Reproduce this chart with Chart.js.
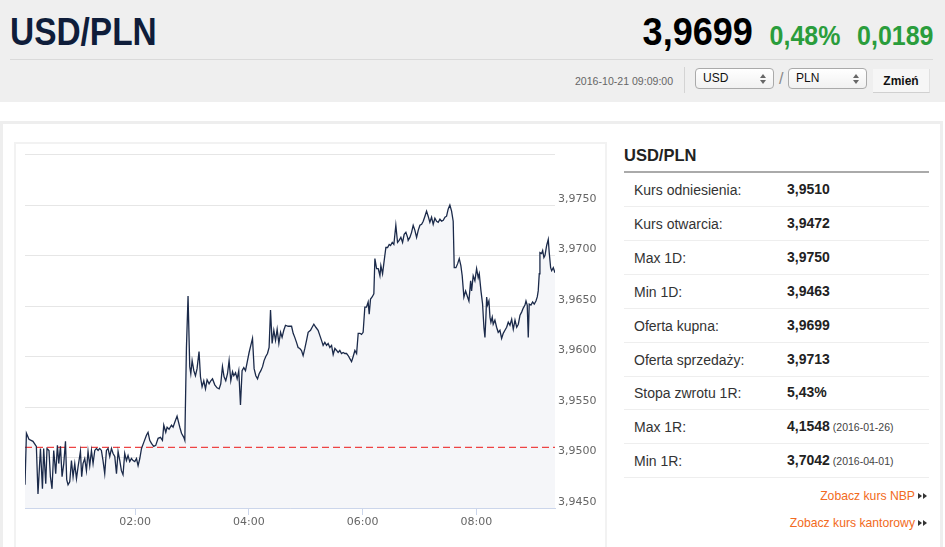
<!DOCTYPE html>
<html><head><meta charset="utf-8">
<script src="https://cdn.jsdelivr.net/npm/chart.js@4.4.1/dist/chart.umd.min.js"></script>
<style>
html,body{margin:0;padding:0;background:#fff;width:945px;height:547px;overflow:hidden;font-family:"Liberation Sans",Arial,sans-serif;}
.abs{position:absolute;}
#hdr{left:0;top:0;width:945px;height:102px;background:#efefef;}
#title{left:10px;top:12px;font-weight:bold;font-size:39px;line-height:40px;color:#0f1d3a;white-space:nowrap;transform:scaleX(0.857);transform-origin:left center;}
#quote{right:12px;top:12px;white-space:nowrap;font-weight:bold;line-height:40px;transform:scaleX(0.925);transform-origin:right center;}
#price{font-size:39px;color:#000;}
.chg{font-size:27px;color:#2a9d3c;margin-left:18px;}
#hline{left:10px;top:59px;width:923px;height:1px;background:#dadada;}
#date{left:575px;top:75px;font-size:11px;color:#666;white-space:nowrap;transform:scaleX(0.96);transform-origin:left center;}
#vsep{left:684px;top:67px;width:1px;height:26px;background:#d4d4d4;}
.sel{height:19px;border:1px solid #aaa;border-radius:4px;background:linear-gradient(#fff,#f1f1f1);font-size:12px;line-height:19px;color:#111;box-sizing:content-box;}
.sel span{position:absolute;left:7px;top:0;}
.arr{position:absolute;right:7px;width:0;height:0;border-left:3px solid transparent;border-right:3px solid transparent;}
#slash{left:779px;top:70px;font-size:16px;color:#888;}
#btn{left:873px;top:69px;width:56px;height:23px;background:#f6f6f6;border-bottom:1px solid #d0d0d0;border-right:1px solid #e0e0e0;font-weight:bold;font-size:12px;line-height:24px;text-align:center;color:#111;}
#panel{left:0;top:121px;width:937px;height:440px;border:3px solid #eeeeee;}
#box{left:14px;top:142px;width:589px;height:420px;border:2px solid #f2f2f2;}
#chartwrap{left:17px;top:145px;width:588px;height:398px;}
#ptitle{left:624px;top:146px;font-weight:bold;font-size:16.5px;color:#222;}
#pline{left:624px;top:171px;width:305px;height:2px;background:#aaa;}
.row{left:624px;width:305px;height:33px;border-bottom:1px solid #eeeeee;}
.row .l{position:absolute;left:10px;top:9px;font-size:14px;color:#333;}
.row .v{position:absolute;left:163px;top:8px;font-size:14px;font-weight:bold;color:#222;}
.row .v small{font-size:10.5px;font-weight:normal;color:#444;margin-left:3px;}
.lnk{right:30px;font-size:12.2px;color:#f26a21;}
.tri{width:0;height:0;border-top:3px solid transparent;border-bottom:3px solid transparent;border-left:4px solid #333;}
</style></head>
<body>
<div id="hdr" class="abs"></div>
<div id="title" class="abs">USD/PLN</div>
<div id="quote" class="abs"><span id="price">3,9699</span><span class="chg">0,48%</span><span class="chg">0,0189</span></div>
<div id="hline" class="abs"></div>
<div id="date" class="abs">2016-10-21 09:09:00</div>
<div id="vsep" class="abs"></div>
<div class="abs sel" style="left:695px;top:68px;width:77px;"><span>USD</span><div class="arr" style="top:5px;border-bottom:4px solid #666;"></div><div class="arr" style="top:11px;border-top:4px solid #666;"></div></div>
<div id="slash" class="abs">/</div>
<div class="abs sel" style="left:788px;top:68px;width:77px;"><span>PLN</span><div class="arr" style="top:5px;border-bottom:4px solid #666;"></div><div class="arr" style="top:11px;border-top:4px solid #666;"></div></div>
<div id="btn" class="abs">Zmień</div>
<div id="panel" class="abs"></div>
<div id="box" class="abs"></div>
<div id="chartwrap" class="abs"><canvas id="c"></canvas></div>
<div id="ptitle" class="abs">USD/PLN</div>
<div id="pline" class="abs"></div>
<div id="rows"></div>
<div class="abs lnk" style="top:489px;">Zobacz kurs NBP</div>
<div class="abs tri" style="left:918px;top:493px;"></div><div class="abs tri" style="left:923px;top:493px;"></div>
<div class="abs lnk" style="top:516px;">Zobacz kurs kantorowy</div>
<div class="abs tri" style="left:918px;top:520px;"></div><div class="abs tri" style="left:923px;top:520px;"></div>
<script>
// ---- data (minutes after midnight, USD/PLN rate) ----
const times = [3.9,5.4,8.1,12.3,15.9,17.6,20.2,22.3,23.6,25.8,27.1,29.2,30.7,32.4,34.2,36.3,38.1,39.5,41.3,43.0,44.8,46.6,47.9,49.3,51.1,52.9,54.6,56.4,58.2,59.9,62.4,63.7,65.1,66.9,68.7,70.4,72.2,74.0,75.7,77.5,79.3,81.0,82.7,84.5,86.2,88.0,89.8,91.5,93.3,95.1,96.8,98.6,100.4,102.1,103.9,105.6,107.3,109.1,110.9,112.6,114.4,116.2,117.9,119.7,121.5,123.2,125.0,
126.8,129.2,132.0,133.7,135.5,137.3,139.7,141.8,144.3,146.8,148.9,150.3,152.4,153.8,155.9,158.4,160.1,161.9,164.3,167.2,169.0,171.4,172.5,174.2,175.9,177.7,178.8,180.2,182.0,183.7,185.4,187.5,189.0,190.7,192.5,194.3,196.0,198.1,199.9,201.7,204.1,206.5,208.7,210.4,212.2,213.9,215.7,217.5,219.2,221.0,222.8,224.2,226.0,227.7,229.4,231.2,232.9,234.7,236.5,238.2,240.3,242.1,243.9,245.6,247.4,249.2,250.9,252.7,254.5,256.1,257.9,259.7,261.4,
262.9,264.6,266.4,268.2,269.9,271.7,273.5,275.1,276.9,278.7,281.5,285.1,286.8,288.5,290.3,292.0,293.8,295.6,297.3,299.1,300.9,302.6,305.1,306.8,308.6,310.7,313.1,314.9,316.7,318.4,320.2,322.0,323.7,325.5,327.3,329.0,330.8,332.6,334.2,336.0,337.8,339.5,341.3,343.1,344.8,346.6,348.4,350.1,351.9,353.7,355.4,357.2,358.9,360.6,362.4,364.2,365.9,367.0,368.4,370.1,371.9,373.0,374.8,376.5,378.3,379.3,381.1,382.8,384.6,386.4,388.1,389.5,391.3,393.0,395.1,396.9,398.6,400.4,402.2,403.9,405.7,407.5,
408.1,409.9,411.7,413.4,415.2,417.0,418.7,420.5,422.3,424.0,425.8,427.5,429.2,431.0,432.8,434.5,436.3,438.1,439.8,441.6,443.4,445.1,446.9,448.6,450.3,452.1,453.9,455.6,456.7,458.5,460.3,462.0,463.7,465.1,466.9,468.7,470.4,472.2,474.0,475.0,476.7,478.5,480.3,482.0,483.1,484.9,486.6,488.0,489.1,490.1,490.9,491.9,493.3,494.4,495.4,496.8,497.8,499.6,501.4,503.1,504.9,506.7,508.4,510.2,512.0,513.7,515.5,517.3,519.0,520.8,522.6,524.3,526.1,527.8,529.5,531.3,532.4,533.7,534.8,535.8,537.6,539.4,541.1,542.9,544.3,545.3,546.4,547.1,548.9,550.0,551.3,552.4,554.2,555.9,556.9,558.4,559.5,561.2,563.0];
const rates = [3.9473,3.9524,3.9518,3.9516,3.9511,3.9464,3.9509,3.9469,3.9509,3.9474,3.9509,3.9507,3.9481,3.9469,3.9507,3.9484,3.9512,3.9494,3.9511,3.9481,3.9494,3.9516,3.9478,3.9473,3.9476,3.9497,3.9481,3.9494,3.9479,3.9491,3.9506,3.9481,3.9494,3.9499,3.9487,3.9506,3.9492,3.9507,3.9494,3.9507,3.9509,3.9507,3.9509,3.9507,3.9497,3.9484,3.9507,3.9509,3.9501,3.9509,3.9504,3.9501,3.9484,3.9506,3.9497,3.9487,3.9483,3.9504,3.9497,3.9502,3.9496,3.9499,3.9497,3.9496,3.9499,3.9492,3.9499,
3.9509,3.9515,3.9522,3.9525,3.9517,3.9514,3.9511,3.9512,3.9519,3.9520,3.9517,3.9532,3.9525,3.9530,3.9528,3.9532,3.9530,3.9535,3.9541,3.9530,3.9524,3.9520,3.9517,3.9609,3.9660,3.9590,3.9583,3.9596,3.9586,3.9581,3.9588,3.9605,3.9580,3.9570,3.9576,3.9568,3.9577,3.9573,3.9576,3.9578,3.9572,3.9569,3.9568,3.9573,3.9590,3.9580,3.9576,3.9583,3.9596,3.9576,3.9585,3.9581,3.9584,3.9578,3.9586,3.9552,3.9586,3.9589,3.9586,3.9594,3.9604,3.9611,3.9618,3.9588,3.9581,3.9578,3.9583,3.9586,3.9590,3.9596,3.9600,3.9603,3.9609,
3.9646,3.9613,3.9626,3.9616,3.9627,3.9613,3.9624,3.9619,3.9626,3.9631,3.9630,3.9630,3.9623,3.9619,3.9614,3.9609,3.9608,3.9606,3.9601,3.9608,3.9616,3.9624,3.9626,3.9629,3.9632,3.9629,3.9626,3.9621,3.9616,3.9611,3.9614,3.9611,3.9613,3.9609,3.9611,3.9602,3.9608,3.9606,3.9604,3.9606,3.9603,3.9604,3.9603,3.9603,3.9601,3.9598,3.9595,3.9600,3.9606,3.9603,3.9623,3.9623,3.9622,3.9624,3.9649,3.9649,3.9654,3.9642,3.9657,3.9659,3.9662,3.9697,3.9687,3.9687,3.9680,3.9690,3.9682,3.9695,3.9708,3.9708,3.9711,3.9710,3.9713,3.9711,3.9730,3.9713,3.9715,3.9718,3.9713,3.9721,3.9723,3.9718,
3.9715,3.9718,3.9723,3.9730,3.9725,3.9718,3.9725,3.9730,3.9731,3.9734,3.9739,3.9744,3.9739,3.9733,3.9738,3.9731,3.9737,3.9734,3.9733,3.9736,3.9734,3.9735,3.9738,3.9739,3.9746,3.9750,3.9744,3.9734,3.9688,3.9688,3.9692,3.9697,3.9690,3.9680,3.9659,3.9665,3.9660,3.9655,3.9675,3.9665,3.9680,3.9675,3.9687,3.9678,3.9682,3.9665,3.9652,3.9629,3.9619,3.9639,3.9659,3.9651,3.9655,3.9639,3.9634,3.9639,3.9632,3.9636,3.9629,3.9624,3.9626,3.9618,3.9623,3.9626,3.9629,3.9634,3.9631,3.9637,3.9627,3.9636,3.9629,3.9632,3.9641,3.9644,3.9648,3.9651,3.9655,3.9651,3.9619,3.9652,3.9651,3.9654,3.9652,3.9655,3.9659,3.9665,3.9682,3.9703,3.9702,3.9705,3.9698,3.9700,3.9710,3.9716,3.9703,3.9688,3.9685,3.9688,3.9683];
const referenceRate = 3.9510;
const yMin = 3.9450, yMax = 3.9800, yStep = 0.0050;
const xTickValues = [120, 240, 360, 480];
const xTickLabels = ["02:00", "04:00", "06:00", "08:00"];

const tableLabels = ["Kurs odniesienia:","Kurs otwarcia:","Max 1D:","Min 1D:","Oferta kupna:","Oferta sprzedaży:","Stopa zwrotu 1R:","Max 1R:","Min 1R:"];
const tableValues = ["3,9510","3,9472","3,9750","3,9463","3,9699","3,9713","5,43%","4,1548","3,7042"];
const tableDates  = ["","","","","","","","2016-01-26","2016-04-01"];

// table
const rowsEl = document.getElementById('rows');
tableLabels.forEach((lab,i)=>{
  const d=document.createElement('div');
  d.className='abs row';
  d.style.top=(173+i*33.9)+'px';
  d.innerHTML='<span class="l">'+lab+'</span><span class="v">'+tableValues[i]+(tableDates[i]?'<small>('+tableDates[i]+')</small>':'')+'</span>';
  rowsEl.appendChild(d);
});

// chart
const pts = times.map((t,i)=>({x:t,y:rates[i]}));
const tMin = times[0], tMax = times[times.length-1];
new Chart(document.getElementById('c'),{
  type:'line',
  data:{datasets:[
    {data:pts,borderColor:'#1b2a4a',borderWidth:1.3,pointRadius:0,tension:0,fill:'start',backgroundColor:'#f5f6f9'},
    {data:[{x:tMin,y:referenceRate},{x:tMax,y:referenceRate}],borderColor:'#ee4444',borderWidth:1.2,borderDash:[7,4],pointRadius:0,fill:false}
  ]},
  options:{
    responsive:true,maintainAspectRatio:false,animation:false,
    layout:{padding:{left:8,top:8,right:0,bottom:0}},
    plugins:{legend:{display:false},tooltip:{enabled:false},filler:{drawTime:'beforeDatasetsDraw'}},
    scales:{
      x:{type:'linear',min:tMin,max:tMax,
        afterBuildTicks:s=>{s.ticks=xTickValues.map(v=>({value:v}));},
        afterFit:s=>{s.height=35;},
        ticks:{callback:(v)=>{const i=xTickValues.indexOf(v);return i>=0?xTickLabels[i]:'';},color:'#666',font:{family:'DejaVu Sans',size:11},padding:1,maxRotation:0,autoSkip:false},
        grid:{drawOnChartArea:false,drawTicks:true,tickLength:7,color:'#ccd6eb'},
        border:{color:'#ccd6eb',width:1}
      },
      y:{position:'right',min:yMin,max:yMax,
        afterFit:s=>{s.width=50;},
        ticks:{stepSize:yStep,callback:v=>(Math.abs(v-yMax)<1e-7)?'':v.toFixed(4).replace('.',','),color:'#666',font:{family:'DejaVu Sans',size:11},padding:3,labelOffset:-6},
        grid:{color:'#e6e6e6',drawTicks:false},
        border:{display:false}
      }
    }
  }
});
</script>
</body></html>
